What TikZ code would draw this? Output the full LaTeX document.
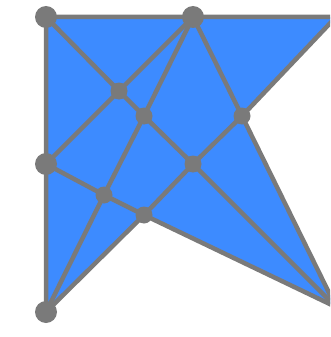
\documentclass[tikz,border=0pt]{standalone}
\usepackage{tikz}

\definecolor{meshblue}{RGB}{61,139,255}
\definecolor{meshgray}{RGB}{122,122,122}

\begin{document}
\begin{tikzpicture}[
        x=1pt, y=-1pt,
        edge/.style={draw=meshgray, line width=4.5pt, line join=round, line cap=round},
        bigdot/.style={circle, fill=meshgray, inner sep=0pt, minimum size=22pt},
        dot/.style={circle, fill=meshgray, inner sep=0pt, minimum size=17pt}
    ]
    \useasboundingbox (0,0) rectangle (330,337);
    \clip (0,0) rectangle (330,337);

    % corners of the outline
    \coordinate (tl) at (46,17);
    \coordinate (tm) at (193,17);
    \coordinate (tr) at (336,17);
    \coordinate (ml) at (46,164);
    \coordinate (bl) at (46,312);
    \coordinate (br) at (336,307);
    \coordinate (notch) at (242,116);
    \coordinate (dent) at (144,215);
    % inner points
    \coordinate (ua) at (119,91);
    \coordinate (ub) at (144,116);
    \coordinate (mid) at (193,164);
    \coordinate (lo) at (104,195);

    \fill[meshblue] (tl) -- (tm) -- (tr) -- (notch) -- (br) -- (dent) -- (bl) -- (ml) -- cycle;
    \draw[edge] (tl) -- (tm) -- (tr) -- (notch) -- (br) -- (dent) -- (bl) -- (ml) -- cycle;

    \draw[edge] (tl) -- (ua) -- (ub) -- (mid) -- (br);
    \draw[edge] (tm) -- (ua) -- (ml);
    \draw[edge] (tm) -- (ub) -- (lo) -- (bl);
    \draw[edge] (tm) -- (notch) -- (mid) -- (dent);
    \draw[edge] (ml) -- (lo) -- (dent);

    \foreach \p in {tl, tm, ml, bl}
        \node[bigdot] (d-\p) at (\p) {};
    \foreach \p in {ua, ub, notch, mid, lo, dent}
        \node[dot] (d-\p) at (\p) {};

\end{tikzpicture}
\end{document}
